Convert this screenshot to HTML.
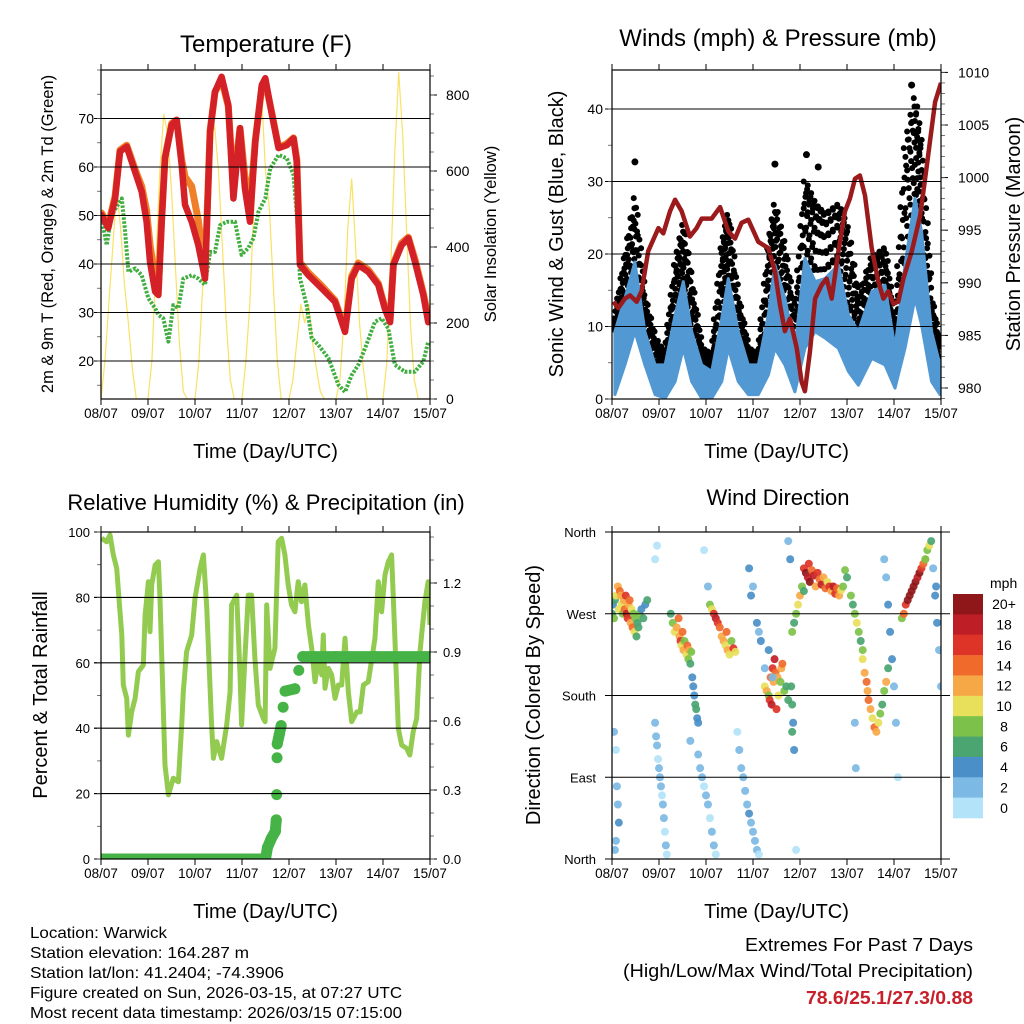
<!DOCTYPE html>
<html><head><meta charset="utf-8">
<style>
html,body{margin:0;padding:0;background:#fff;}
svg{display:block;font-family:"Liberation Sans",sans-serif;}
</style></head>
<body>
<svg id="chart" xmlns="http://www.w3.org/2000/svg" width="1024" height="1024" viewBox="0 0 1024 1024">
<defs>
<clipPath id="c1"><rect x="101" y="70" width="329" height="329"/></clipPath>
<clipPath id="c2"><rect x="612" y="70" width="329" height="329"/></clipPath>
<clipPath id="c3"><rect x="101" y="532" width="329" height="327"/></clipPath>
<clipPath id="c4"><rect x="612" y="532" width="329" height="327"/></clipPath>
</defs>
<g id="layer"></g>
<g font-size="16" fill="#000">
<text x="30" y="938" textLength="137" lengthAdjust="spacingAndGlyphs">Location: Warwick</text>
<text x="30" y="958" textLength="219" lengthAdjust="spacingAndGlyphs">Station elevation: 164.287 m</text>
<text x="30" y="978" textLength="254" lengthAdjust="spacingAndGlyphs">Station lat/lon: 41.2404; -74.3906</text>
<text x="30" y="998" textLength="372" lengthAdjust="spacingAndGlyphs">Figure created on Sun, 2026-03-15, at 07:27 UTC</text>
<text x="30" y="1018" textLength="372" lengthAdjust="spacingAndGlyphs">Most recent data timestamp: 2026/03/15 07:15:00</text>
<text x="973" y="951" text-anchor="end" font-size="18" textLength="228" lengthAdjust="spacingAndGlyphs">Extremes For Past 7 Days</text>
<text x="973" y="977" text-anchor="end" font-size="18" textLength="350" lengthAdjust="spacingAndGlyphs">(High/Low/Max Wind/Total Precipitation)</text>
<text x="973" y="1004" text-anchor="end" font-size="18" font-weight="bold" fill="#c8202a" textLength="167" lengthAdjust="spacingAndGlyphs">78.6/25.1/27.3/0.88</text>
</g>
</svg>
<script>
// ---------- DATA ----------
const dayLabels = ["08/07","09/07","10/07","11/07","12/07","13/07","14/07","15/07"];
const tempHours = [0.3,3.7,7.2,9.7,13.1,17.4,20.8,23.3,25,27.6,29.3,31,32.7,36.1,38.6,41.2,42.9,46.3,49.7,53.1,55.7,58.2,61.6,65,67.6,71,73.5,76.1,78.8,82.1,83.9,87.3,90.7,94.9,98.3,100,101.6,105.9,112.7,119.5,124.6,128,131.4,136.5,141.6,145,147.6,149.3,153.5,156.9,160.3,164.6,167.1];
const temp2m = [50.1,47.4,53.5,63.2,64.2,59,54.9,48.7,40.5,34.3,33.6,48.7,61.8,68.7,69.7,60.4,52.2,48.7,43.9,37,67.3,75.5,78.6,72.8,53.5,68,55.6,48.7,65.2,76.9,78.3,70.7,63.9,64.5,65.9,61.1,39.8,37.7,35,32.2,26,37,39.8,38.4,35.7,30.7,28,39.8,43.9,45.3,40.5,33.6,28];
const temp9m = [50.5,48,54,63.5,64.5,59.5,56,51,44,37,35,49.5,62,69,69.7,61.5,58,56,49,38,67.5,75.5,78,72.5,56,68,58,52,65.5,76.5,77.5,71,64,64.8,66,61.5,40.3,38.2,35.5,32.5,26.5,37.5,40.2,38.8,36,31,28.5,40,44.3,45.5,41,34,29];
const dewHours = [0.3,2.9,5.4,10.6,12.3,14,17.4,20.8,24.2,27.6,29.3,31.8,34.4,36.9,39.5,42,46.3,49.7,53.1,55.7,58.2,60.8,64.2,68.4,71.8,75.2,77.8,80.4,83.9,86.4,90.7,94.9,98.3,100,101.6,105,107.6,111,116.1,121.2,124.6,128,131.4,134.8,139.9,143.3,146.7,150.1,155.2,160.3,164.6,167.1];
const dewpoint = [49.4,43.9,50.1,53.5,46.7,38.4,39.1,37.7,32.9,30.9,29.5,28.8,24,31.5,30.9,37,37.7,37,35.7,42.5,42.5,48,48.7,48.7,41.9,43.3,45.3,50.8,53.5,59.7,62.5,61.8,58.4,50.1,37,31.5,24.7,23.3,20.6,15.1,13.6,17.1,19.2,22.6,28.1,28.8,26.7,19.2,17.8,17.8,19.9,24];
const solar = [0,100,250,400,550,450,300,200,80,0,0,0,0,100,350,600,750,700,550,350,150,20,0,0,0,100,300,500,680,720,600,400,200,50,0,0,0,100,250,500,750,800,600,500,300,100,0,0,0,50,150,250,200,250,150,80,20,0,0,0,0,50,200,450,580,400,200,80,0,0,0,0,0,100,350,650,860,700,450,200,50,0,0,0,0];
const windHours = [1.5,6.6,11.7,16.8,22,27.1,32.2,36.4,40.7,45.8,50.9,56,59.4,64.5,69.6,74.7,79.8,83.2,88.3,93.4,98.5,103.7,108.8,115.6,120.7,125.8,132.6,139.4,144.5,149.6,154.7,158.1,163.2,167.5];
const windHi = [9.3,13.9,18.9,9.3,4.7,4.7,11.6,16.2,9.3,4.7,3.8,11.1,16.6,9.3,4.7,4.7,11.6,18.5,13.9,7,19.4,16.2,16.6,18.5,11.6,9.3,14.8,15.7,7,18.5,27.7,23.1,9.3,4.7];
const windLo = [0.6,4.7,9.3,4.7,0.6,0.1,2.4,7,2.4,0.1,0.1,2.4,7,2.4,0.6,0.6,3.3,7,4.7,1,7,9.3,8.4,7,3.8,1.9,5.6,4.7,1.5,7,13.9,10.2,2.4,0.6];
const gustHi = [11.1,19.4,27.7,13.9,8.4,6.1,18.5,24,16.2,7,6.1,20.8,25.4,13.9,7,6.1,20.8,26.8,20.8,11.6,30,26.8,25.4,26.8,23.1,13.9,19.4,20.8,10.2,34.6,41.5,34.6,13.9,7];
const gustOutHours = [11.7,83.2,99.3,105.3,153];
const gustOutVals = [32.7,32.4,33.7,32,43.3];
const presHours = [0.7,3.2,6.6,9.2,12.6,15.1,18.5,23.7,26.2,29.6,32.2,35.6,39.8,43.2,45.8,50.9,55.2,59.4,62.8,66.2,69.6,74.7,79.8,83.2,85.8,88.3,90.9,94.3,96.8,98.5,101.1,103.7,107.1,109.6,112.2,115.6,119,121.5,124.1,126.6,129.2,132.6,136,138.6,141.1,143.7,146.2,148.8,153.1,157.4,160.8,165,168];
const pressure = [988.2,987.6,988.5,988.8,988.2,989.2,993,995.2,994.7,996.8,997.9,996.8,994.4,995.2,996.1,996.1,997.2,994.9,994.2,995.7,996,993.9,993.3,991.1,987.9,985.4,986.6,983.8,980.6,979.7,983.5,988.5,989.8,990.4,988.5,993,996.8,998,999.9,1000.2,998.3,993.3,990.1,988.5,989.2,988,988.2,990.4,993,996.4,1001.2,1007.2,1009];
const rhHours = [0.3,2.9,4.6,6.3,8,9.7,10.6,11.4,13.1,14,15.7,17.4,19.1,21.6,22.5,24.2,25,25.9,27.6,29.3,30.2,31.8,32.7,34.4,36.9,39.5,41.2,42,43.7,46.3,48,50.6,52.3,54,56.5,57.4,59.1,61.6,64.2,65.9,66.7,69.3,71,71.8,73.5,75.2,76.9,78.6,80.3,82.9,83.8,84.6,86.3,88.8,90.5,92.2,93.9,95.6,97.3,99,100.7,102.4,104.1,105.9,107.6,109.3,111,112.7,113.5,114.4,116.1,117.8,119.5,121.2,122.9,124.6,126.3,128,130.6,132.3,134,136.5,139.9,141.6,143.3,145,146.7,148.4,150.1,151.8,153.5,156.1,157.7,159.4,161.2,162.9,165.4,167.1,168];
const rh = [98.1,97,99.1,93,88.9,75.6,68.5,53.2,49.1,37.9,45,49.1,57.3,59.3,74.6,84.8,69.5,83.8,89.9,90.9,78.7,46.1,28.7,19.6,24.7,23.6,41,51.2,63.4,68.5,79.7,88.9,93,76.7,41,30.8,35.9,30.8,41,51.2,77.7,80.7,56.3,41,61.4,80.7,80.7,61.4,47.1,43,42,77.7,58.3,64.4,97,98.1,93,83.8,77.7,75.6,84.8,78.7,83.8,71.6,64.4,54.2,61.4,56.3,68.5,52.2,58.3,56.3,49.1,53.2,53.2,67.5,51.2,42,45,45,53.2,54.2,67.5,84.8,75.6,86.9,90.9,93,67.5,40,34.9,33.8,31.8,38.9,43,63.4,78.7,84.8,71.6];
const precipHours = [0,20,40,60,84,85,86.5,87,89,89.5,89.7,89.9,90,91,92,93,94,99,101,103,120,140,168];
const precip = [0,0,0,0,0,0.05,0.08,0.09,0.12,0.17,0.28,0.44,0.5,0.54,0.58,0.66,0.73,0.74,0.82,0.88,0.88,0.88,0.88];
const dirHours = [0,0.5,1,1.5,2,3,3.5,4,4.5,5,5.5,6,6.5,7,7.5,8,8.5,9,9.5,10,10.5,11,11.5,12,12.5,13,13.5,14,15,16,17,18,
 30,31,32,33,34,34.5,35,35.5,36,36.5,37,38,38.5,39,39.5,40,40.5, 41,41.5,42,42.5,43,43.5,44,
 50,51,52,53,54,55,56,57,58,58.5,59,60,61,62,63,
 78,79,80,80.5,81,81.5,82,82.5,83,83.5,84,84.5,85,86,86.5,87,88,89,90,
 92,93,94,95,96,97,98,
 98,99,100,100.5,101,102,103,104,105,106,107,108,109,110,111,112,113,114,115,116,117,118,119,120,
 122,123,124,125,126,127,128,
 128,129,130,130.5,131,132,133,134,135,136,137,138,139,140,141,
 148,149,150,151,152,153,154,155,156,157,158,159,160, 160,161,162,163,
 1,2,2.5,3,3.5,2,1.5,
 22,22.5,23,23.5,24,24.5,25,25.5,26,26.5,27,27.5,28,22,23,
 40,44,
 45,46,47,48,49,50,51,52,53,47,49,
 64,65,66,67,68,69,70,71,72,73,74,75,
 70,72,74,76,78,80,82,71,75,
 90,91,92,93,94,91.5,92,92.5,
 124,124.5,
 139,140,141,142,143,144,145,146,
 164,165,166,167,168,165.5];
const dirDeg = [270,280,265,285,290,300,275,295,290,280,270,285,275,290,270,265,280,285,260,275,255,270,250,265,245,260,255,270,275,265,280,285,
 270,260,250,255,265,245,240,235,250,230,240,225,235,220,230,215,228, 200,190,180,170,165,155,150,
 280,275,270,265,260,255,245,240,235,250,230,225,240,232,228,
 190,185,180,175,200,170,210,195,220,205,165,200,180,195,210,215,185,190,175,
 250,260,270,280,290,300,295,
 320,315,310,325,305,318,312,300,315,308,302,310,298,305,300,295,300,292,298,290,296,300,318,310,
 290,280,270,260,250,240,230,
 220,205,195,185,175,165,155,145,140,150,160,170,185,195,210,
 265,270,280,285,290,295,300,305,310,315,320,325,330, 330,340,345,350,
 140,120,80,60,40,20,10,
 150,135,125,110,100,90,80,70,60,45,30,15,5,330,345,
 130,115,
 100,90,80,70,60,45,30,15,5,340,300,
 140,120,100,90,75,60,50,40,30,20,10,5,
 320,300,260,240,210,230,200,290,250,
 350,330,140,120,10,190,170,150,
 150,100,
 330,310,280,250,220,190,150,90,
 320,290,260,230,190,300];
const dirSpeed = [6,4,8,6,10,12,10,14,12,10,8,12,14,16,18,16,12,14,12,10,14,8,10,8,6,7,6,8,4,6,4,6,
 6,8,10,12,14,12,16,10,14,12,8,10,14,8,12,6,8, 4,4,5,6,6,5,4,
 8,10,16,18,16,14,12,12,10,14,12,10,8,16,10,
 10,12,8,16,14,18,16,12,18,14,16,12,10,8,12,14,8,6,6,
 8,6,8,10,12,8,6,
 16,20,18,16,20,14,18,12,16,14,18,12,14,10,16,12,18,16,14,12,10,8,8,6,
 8,6,8,10,8,6,8,
 10,12,14,12,14,12,10,14,12,10,8,6,8,12,6,
 8,14,16,20,20,20,20,20,18,20,16,14,12, 8,8,10,6,
 2,1,3,2,4,3,2,
 2,3,2,1,3,2,2,1,3,2,1,2,1,1,0,
 2,3,
 2,2,1,3,2,1,2,3,1,1,2,
 1,2,3,2,3,2,4,3,2,3,2,1,
 4,3,5,4,3,4,3,4,3,
 3,5,6,5,1,6,6,5,
 2,3,
 2,3,4,5,4,3,2,1,
 3,4,4,3,2,5];
const cbLabels = ["20+","18","16","14","12","10","8","6","4","2","0"];
const cbColors = ["#8f1719","#be1e26","#dd3427","#f06a2c","#f7a846","#e8e05b","#7cc24a","#4aa570","#4a8fc7","#7cb9e4","#b3e3f8"];

// ---------- HELPERS ----------
const NS="http://www.w3.org/2000/svg";
const layer=document.getElementById('layer');
function mk(tag,attrs,parent){const e=document.createElementNS(NS,tag);for(const k in attrs)e.setAttribute(k,attrs[k]);(parent||layer).appendChild(e);return e;}
function txt(s,attrs,parent){const e=mk('text',attrs,parent);e.textContent=s;return e;}
function pts(xs,ys,fx,fy){return xs.map((h,i)=>fx(h).toFixed(1)+","+fy(ys[i]).toFixed(1)).join(" ");}

function panel(name,L,T,W,H,clip){
  const g=mk('g',{});
  
  
  const xs=h=>L+h*W/168;
  dayLabels.forEach((d,i)=>{
    const x=L+i*W/7;
    const t1=mk('line',{x1:x,y1:T,x2:x,y2:T-6,stroke:'#000','stroke-width':1},g);
    
    
    const t2=mk('line',{x1:x,y1:T+H,x2:x,y2:T+H+6,stroke:'#000','stroke-width':1},g);
    
    
    const lb=txt(d,{x:x,y:T+H+19,'text-anchor':'middle','font-size':13.5},g);
    
    
  });
  const xt=txt("Time (Day/UTC)",{x:L+W/2,y:T+H+59,'text-anchor':'middle','font-size':20},g);
  
  
  const plot=mk('g',{'clip-path':'url(#'+clip+')'},g);
  
  
  return {g,plot,xs};
}
function frame(g,L,T,W,H){
  const r=mk('rect',{x:L,y:T,width:W,height:H,fill:'none',stroke:'#000','stroke-width':1.2},g);
  
  
}
function yTicks(g,vals,labels,fy,x,dir,grid,L,W,anchorX,anchor,fs){
  vals.forEach((v,i)=>{
    const y=fy(v);
    const t=mk('line',{x1:x,y1:y,x2:x+dir*7,y2:y,stroke:'#000','stroke-width':1},g);
    
    
    if(grid){
      const gl=mk('line',{x1:L,y1:y,x2:L+W,y2:y,stroke:'#000','stroke-width':1.1},g);
      
      
    }
    const lb=txt(labels[i],{x:anchorX,y:y+5,'text-anchor':anchor,'font-size':fs||14},g);
    
    
  });
}
function minorTicks(g,from,to,step,fy,x,dir){
  for(let v=from;v<=to+1e-9;v+=step){
    const y=fy(v);
    const t=mk('line',{x1:x,y1:y,x2:x+dir*4,y2:y,stroke:'#555','stroke-width':0.8},g);
    
    
  }
}
function title(s,x,y,fs){
  const t=txt(s,{x:x,y:y,'text-anchor':'middle','font-size':fs});
  
  
}
function vtitle(s,x,y,fs,name){
  const t=txt(s,{x:0,y:0,'text-anchor':'middle','font-size':fs,transform:'translate('+x+','+y+') rotate(-90)'});
  
  
}

// ---------- PANEL 1 ----------
(function(){
  const L=101,T=70,W=329,H=329;
  const p=panel('temperature-panel',L,T,W,H,'c1');
  const yT=v=>361-(v-20)*4.85, yS=v=>399-v*0.38;
  title("Temperature (F)",266,52,24);
  yTicks(p.g,[20,30,40,50,60,70],["20","30","40","50","60","70"],yT,L,-1,true,L-7,W+7,94,'end',14);
  minorTicks(p.g,15,80,5,yT,L,-1);
  yTicks(p.g,[0,200,400,600,800],["0","200","400","600","800"],yS,L+W,1,false,0,0,446,'start',14);
  minorTicks(p.g,0,850,50,yS,L+W,1);
  const sol=mk('polyline',{points:pts(solar.map((v,i)=>i*2),solar,p.xs,yS),fill:'none',stroke:'#f8dc4a','stroke-width':1.2,opacity:0.85},p.plot);
  
  
  const dw=mk('polyline',{points:pts(dewHours,dewpoint,p.xs,yT),fill:'none',stroke:'#3fae3f','stroke-width':4,'stroke-dasharray':'2.5 1.5','stroke-linejoin':'round'},p.plot);
  
  
  const o=mk('polyline',{points:pts(tempHours,temp9m,p.xs,yT),fill:'none',stroke:'#f07f2a','stroke-width':7,'stroke-linejoin':'round','stroke-linecap':'round'},p.plot);
  
  
  const r=mk('polyline',{points:pts(tempHours,temp2m,p.xs,yT),fill:'none',stroke:'#d42027','stroke-width':6.5,'stroke-linejoin':'round','stroke-linecap':'round'},p.plot);
  
  
  frame(p.g,L,T,W,H);
  vtitle("2m & 9m T (Red, Orange) & 2m Td (Green)",53,234,16.5,'y-axis-title-left');
  vtitle("Solar Insolation (Yellow)",496,234,16.5,'y-axis-title-right');
})();

// ---------- PANEL 2 ----------
(function(){
  const L=612,T=70,W=329,H=329;
  const p=panel('winds-panel',L,T,W,H,'c2');
  const yW=v=>399-v*7.25, yP=v=>388-(v-980)*10.52;
  title("Winds (mph) & Pressure (mb)",778,46,24);
  yTicks(p.g,[0,10,20,30,40],["0","10","20","30","40"],yW,L,-1,true,L-7,W+7,603,'end',14);
  minorTicks(p.g,0,44,5,yW,L,-1);
  yTicks(p.g,[980,985,990,995,1000,1005,1010],["980","985","990","995","1000","1005","1010"],yP,L+W,1,false,0,0,958,'start',14);
  minorTicks(p.g,979,1010,1,yP,L+W,1);
  // gust dots spread between wind top and gust top
  const fr=[0.15,0.4,0.65,0.85,1.0];
  for(let i=0;i<windHours.length-1;i++){
    for(let s=0;s<6;s++){
      const t=s/6;
      const h=windHours[i]+(windHours[i+1]-windHours[i])*t;
      const wh=windHi[i]+(windHi[i+1]-windHi[i])*t;
      const gh=gustHi[i]+(gustHi[i+1]-gustHi[i])*t;
      fr.forEach((f,k)=>{
        const jitter=((s+k)%2?0.6:-0.6);
        const c=mk('circle',{cx:p.xs(h+jitter),cy:yW(wh+(gh-wh)*f),r:3,fill:'#000'},p.plot);
        
        
      });
    }
  }
  gustOutHours.forEach((h,i)=>{
    const c=mk('circle',{cx:p.xs(h),cy:yW(gustOutVals[i]),r:3.5,fill:'#000'},p.plot);
    
    
  });
  const up=pts(windHours,windHi,p.xs,yW);
  const dnp=windHours.map((h,i)=>[h,windLo[i]]).reverse().map(a=>p.xs(a[0]).toFixed(1)+","+yW(a[1]).toFixed(1)).join(" ");
  const wb=mk('polygon',{points:up+" "+dnp,fill:'#5298d3',stroke:'#5298d3','stroke-width':3,'stroke-linejoin':'round'},p.plot);
  
  
  const pl=mk('polyline',{points:pts(presHours,pressure,p.xs,yP),fill:'none',stroke:'#9b1a1c','stroke-width':4.5,'stroke-linejoin':'round'},p.plot);
  
  
  frame(p.g,L,T,W,H);
  vtitle("Sonic Wind & Gust (Blue, Black)",563,234,20,'y-axis-title-left');
  vtitle("Station Pressure (Maroon)",1020,234,20,'y-axis-title-right');
})();

// ---------- PANEL 3 ----------
(function(){
  const L=101,T=532,W=329,H=327;
  const p=panel('humidity-panel',L,T,W,H,'c3');
  const yR=v=>859-v*3.27, yPr=v=>859-v*230;
  title("Relative Humidity (%) & Precipitation (in)",266,510,22);
  yTicks(p.g,[0,20,40,60,80,100],["0","20","40","60","80","100"],yR,L,-1,true,L-7,W+7,90,'end',13);
  minorTicks(p.g,0,100,10,yR,L,-1);
  yTicks(p.g,[0,0.3,0.6,0.9,1.2],["0.0","0.3","0.6","0.9","1.2"],yPr,L+W,1,false,0,0,443,'start',13);
  minorTicks(p.g,0,1.4,0.1,yPr,L+W,1);
  const rl=mk('polyline',{points:pts(rhHours,rh,p.xs,yR),fill:'none',stroke:'#92cb50','stroke-width':5,'stroke-linejoin':'round'},p.plot);
  
  
  for(let i=1;i<precipHours.length;i++){
    if(Math.abs(precip[i]-precip[i-1])<0.06){
      const s=mk('line',{x1:p.xs(precipHours[i-1]),y1:yPr(precip[i-1]),x2:p.xs(precipHours[i]),y2:yPr(precip[i]),stroke:'#46b346','stroke-width':11,'stroke-linecap':'round'},p.plot);
      
      
    }
  }
  precipHours.forEach((h,i)=>{
    const c=mk('circle',{cx:p.xs(h),cy:yPr(precip[i]),r:5.5,fill:'#46b346'},p.plot);
    
    
  });
  frame(p.g,L,T,W,H);
  vtitle("Percent & Total Rainfall",47,695,20,'y-axis-title-left');
})();

// ---------- PANEL 4 ----------
(function(){
  const L=612,T=532,W=329,H=327;
  const p=panel('wind-direction-panel',L,T,W,H,'c4');
  const yD=d=>859-d*H/360;
  title("Wind Direction",778,505,22);
  const dv=[0,90,180,270,360], dl=["North","East","South","West","North"];
  dv.forEach((d,i)=>{
    const y=yD(d);
    const gl=mk('line',{x1:605,y1:y,x2:950,y2:y,stroke:'#000','stroke-width':1.1},p.g);
    
    
    const lb=txt(dl[i],{x:596,y:y+5,'text-anchor':'end','font-size':13},p.g);
    
    
  });
  const binColor=s=>cbColors[10-Math.min(10,Math.floor(s/2))];
  dirHours.forEach((h,i)=>{
    const c=mk('circle',{cx:p.xs(h),cy:yD(dirDeg[i]),r:4,fill:binColor(dirSpeed[i]),opacity:0.92},p.plot);
    
    
  });
  frame(p.g,L,T,W,H);
  vtitle("Direction (Colored By Speed)",540,695,20,'y-axis-title-left');
  const cb=mk('g',{});
  
  
  const bh=224/11;
  cbColors.forEach((col,i)=>{
    const r=mk('rect',{x:953,y:594+i*bh,width:30,height:bh+0.3,fill:col},cb);
    
    
    const t=txt(cbLabels[i],{x:1004,y:594+i*bh+bh/2+5,'text-anchor':'middle','font-size':14},cb);
    
    
  });
  const u=txt("mph",{x:990,y:588,'font-size':14},cb);
  
  
})();
</script>
</body></html>
